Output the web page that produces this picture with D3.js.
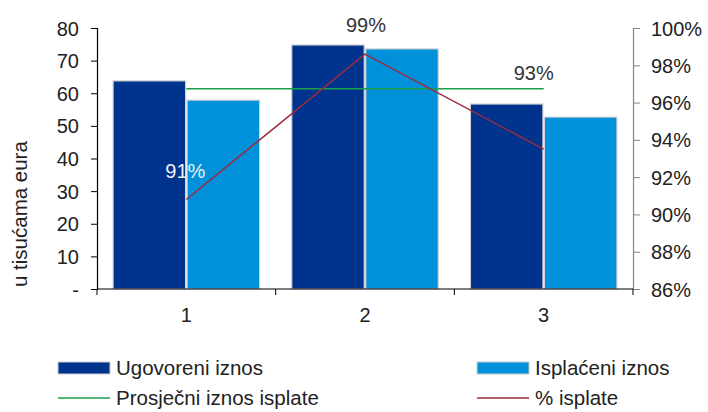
<!DOCTYPE html>
<html>
<head>
<meta charset="utf-8">
<script src="https://cdn.jsdelivr.net/npm/d3@7"></script>
<style>
  body { margin: 0; background: #fff; }
  text { font-family: "Liberation Sans", Arial, sans-serif; fill: #222; }
</style>
</head>
<body>
<div id="chart"></div>
<script>
// data
var categories = ["1", "2", "3"];
var ugovoreni = [63.8, 74.8, 56.7];
var isplaceni = [57.9, 73.6, 52.7];
var prosjek = [61.4, 61.4, 61.4];
var postotak = [90.8, 98.6, 93.5];
var pctLabels = ["91%", "99%", "93%"];
var leftTicks = [0, 10, 20, 30, 40, 50, 60, 70, 80];
var rightTicks = [86, 88, 90, 92, 94, 96, 98, 100];

var width = 708, height = 412;
var margin = {left: 97, right: 75, top: 28, bottom: 123};

var svg = d3.select('#chart').append('svg')
    .attr('width', width)
    .attr('height', height);

var x = d3.scaleBand().domain(categories)
    .range([margin.left, width - margin.right])
    .paddingInner(0.18).paddingOuter(0.09);
var xIn = d3.scaleBand().domain([0, 1]).range([0, x.bandwidth()]).paddingInner(0.02);
var y = d3.scaleLinear().domain([0, 80]).range([height - margin.bottom, margin.top]);
var y2 = d3.scaleLinear().domain([86, 100]).range([height - margin.bottom, margin.top]);

// band for ticks (no padding) so ticks fall between categories
var xTick = d3.scaleBand().domain(categories).range([margin.left, width - margin.right]);
var centre = function(i){ return x(categories[i]) + x.bandwidth() / 2; };

// bars
var series = [ugovoreni, isplaceni];
var colors = ['#00338d', '#0091da'];
series.forEach(function(s, k){
  svg.append('g').selectAll('rect').data(s).enter().append('rect')
    .attr('x', (d, i) => x(categories[i]) + xIn(k))
    .attr('y', d => y(d))
    .attr('width', xIn.bandwidth())
    .attr('height', d => y(0) - y(d))
    .attr('fill', colors[k])
    .attr('stroke', '#d4d4d4')
    .attr('stroke-width', 1.2);
});

// average line (left axis)
var line = d3.line().x((d, i) => centre(i)).y(d => y(d));
svg.append('path').attr('d', line(prosjek))
  .attr('fill', 'none').attr('stroke', '#17a04a').attr('stroke-width', 1.5);

// % line (right axis)
var line2 = d3.line().x((d, i) => centre(i)).y(d => y2(d));
svg.append('path').attr('d', line2(postotak))
  .attr('fill', 'none').attr('stroke', '#9c2b3e').attr('stroke-width', 1.5);

// % labels
var lblOff = [[-1, -22], [1, -22], [-10, -69]];
svg.append('g').selectAll('text').data(postotak).enter().append('text')
  .attr('x', (d, i) => centre(i) + lblOff[i][0])
  .attr('y', (d, i) => y2(d) + lblOff[i][1])
  .attr('text-anchor', 'middle')
  .style('font-size', '20px')
  .style('fill', (d, i) => i === 0 ? '#f0f0f0' : '#333')
  .text((d, i) => pctLabels[i]);

// left axis
var gl = svg.append('g').attr('transform', 'translate(' + margin.left + ',0)')
  .call(d3.axisLeft(y).tickValues(leftTicks).tickSize(6).tickPadding(12)
    .tickFormat(d => d === 0 ? '-' : d));
gl.selectAll('text').style('font-size', '20px').attr('dy', '0.35em');

// right axis
var gr = svg.append('g').attr('transform', 'translate(' + (width - margin.right) + ',0)')
  .call(d3.axisRight(y2).tickValues(rightTicks).tickSize(7).tickPadding(11)
    .tickFormat(d => d + '%'));
gr.selectAll('path, line').attr('stroke', '#888');
gr.selectAll('text').style('font-size', '20px').attr('dy', '0.35em');

// x axis
var gx = svg.append('g').attr('transform', 'translate(0,' + y(0) + ')');
gx.append('line').attr('x1', margin.left).attr('x2', width - margin.right)
  .attr('stroke', '#000').attr('stroke-width', 1.2);
gx.selectAll('line.tk').data(categories.concat(['end'])).enter().append('line')
  .attr('x1', (d, i) => i < categories.length ? xTick(d) : width - margin.right)
  .attr('x2', (d, i) => i < categories.length ? xTick(d) : width - margin.right)
  .attr('y1', 0).attr('y2', 6).attr('stroke', '#000');
gx.selectAll('text').data(categories).enter().append('text')
  .attr('x', (d, i) => centre(i))
  .attr('y', 33)
  .attr('text-anchor', 'middle')
  .style('font-size', '20px')
  .text(d => d);

svg.selectAll('.domain').attr('stroke-width', 1.2);

// y title
svg.append('text')
  .attr('transform', 'translate(27,287) rotate(-90)')
  .style('font-size', '20.5px')
  .text('u tisućama eura');

// legend
var legend = [
  {name: 'Ugovoreni iznos', type: 'rect', color: '#00338d', x: 58, y: 368},
  {name: 'Isplaćeni iznos', type: 'rect', color: '#0091da', x: 477, y: 368},
  {name: 'Prosječni iznos isplate', type: 'line', color: '#17a04a', x: 58, y: 398},
  {name: '% isplate', type: 'line', color: '#9c2b3e', x: 477, y: 398}
];
var lg = svg.append('g').selectAll('g').data(legend).enter().append('g')
  .attr('transform', d => 'translate(' + d.x + ',' + d.y + ')');
lg.filter(d => d.type === 'rect').append('rect')
  .attr('x', 0).attr('y', -6).attr('width', 52).attr('height', 12)
  .attr('fill', d => d.color).attr('stroke', '#ccc');
lg.filter(d => d.type === 'line').append('line')
  .attr('x1', 0).attr('x2', 52).attr('y1', 0).attr('y2', 0)
  .attr('stroke', d => d.color).attr('stroke-width', 1.5);
lg.append('text').attr('x', 58).attr('dy', '0.35em')
  .style('font-size', '20.5px')
  .text(d => d.name);
</script>
</body>
</html>
